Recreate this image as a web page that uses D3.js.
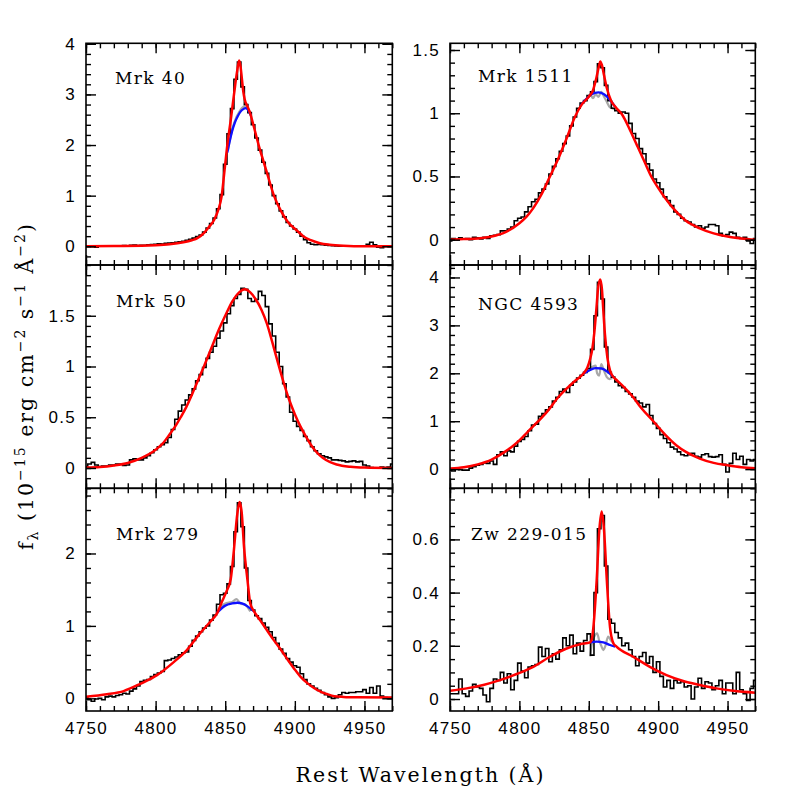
<!DOCTYPE html>
<html><head><meta charset="utf-8">
<script src="https://cdn.jsdelivr.net/npm/d3@7"></script>
<style>body{margin:0;background:#fff}</style>
</head><body><svg id="c" width="797" height="797" xmlns="http://www.w3.org/2000/svg"></svg>
<script>
// ---------- DATA ----------
const WAVE = [4750,4752.5,4755,4757.5,4760,4762.5,4765,4767.5,4770,4772.5,
4775,4777.5,4780,4782.5,4785,4787.5,4790,4792.5,4795,4797.5,
4800,4802.5,4805,4807.5,4810,4812.5,4815,4817.5,4820,4822.5,
4825,4827.5,4830,4832.5,4835,4837.5,4840,4842.5,4845,4847.5,
4850,4852.5,4855,4857.5,4860,4862.5,4865,4867.5,4870,4872.5,
4875,4877.5,4880,4882.5,4885,4887.5,4890,4892.5,4895,4897.5,
4900,4902.5,4905,4907.5,4910,4912.5,4915,4917.5,4920,4922.5,
4925,4927.5,4930,4932.5,4935,4937.5,4940,4942.5,4945,4947.5,
4950,4952.5,4955,4957.5,4960,4962.5,4965,4967.5,4970];

const X_DOMAIN = [4750, 4970];
const X_MAJOR = [4750, 4800, 4850, 4900, 4950];

const mrk40Flux = [0.0,0.0,-0.01,-0.02,0.0,0.0,0.005,0.0,0.01,0.0,
 0.01,0.015,0.01,0.02,0.025,0.015,0.02,0.02,0.03,0.035,
 0.04,0.05,0.045,0.06,0.065,0.07,0.08,0.09,0.1,0.12,
 0.14,0.16,0.19,0.22,0.28,0.36,0.45,0.56,0.74,1.02,
 1.62,2.22,2.72,3.3,3.64,3.15,2.8,2.64,2.4,2.14,
 1.9,1.66,1.44,1.21,1.0,0.84,0.7,0.58,0.47,0.4,
 0.34,0.28,0.2,0.13,0.07,0.04,0.03,0.035,0.03,0.02,
 0.015,0.01,0.005,0.0,0.0,0.005,0.0,0.0,0.005,0.0,
 0.01,0.04,0.08,0.03,-0.02,-0.03,0.0,0.0,0.0];
const mrk40Fit = [[4750,0],[4770,0.005],[4790,0.01],[4800,0.02],[4810,0.04],[4820,0.08],[4826,0.12],[4830,0.16],[4835,0.27],[4838,0.37],[4842,0.52],[4845,0.72],[4847.5,1.0],[4849.5,1.5],[4851.5,2.0],[4854,2.5],[4856.3,3.0],[4858.5,3.45],[4860,3.67],[4861,3.55],[4862,3.3],[4863,3.05],[4864,2.9],[4866,2.76],[4868,2.62],[4870,2.42],[4874,2.0],[4877,1.72],[4880,1.45],[4885,1.0],[4890,0.7],[4895,0.48],[4902,0.3],[4906,0.2],[4911.5,0.12],[4918,0.06],[4925,0.03],[4935,0.01],[4950,0.0],[4970,0.0]];
const mrk40Broad = [[4851.5,1.85],[4853,2.05],[4855,2.28],[4857,2.45],[4859,2.57],[4861,2.66],[4863,2.71],[4864.5,2.73],[4866,2.71],[4867.5,2.64],[4868.5,2.58]];
const mrk40Grey = [[4852,1.9],[4855,2.3],[4858,2.55],[4860,2.65],[4862,2.73],[4864,2.77],[4866,2.74],[4868,2.62]];

const mrk1511Flux = [-0.01,0.01,0.0,0.015,0.005,0.01,0.0,0.02,0.015,0.005,
 0.02,0.01,0.03,0.035,0.04,0.07,0.07,0.085,0.1,0.15,
 0.17,0.18,0.22,0.26,0.3,0.32,0.37,0.4,0.44,0.52,
 0.58,0.64,0.7,0.76,0.82,0.9,0.97,1.04,1.08,1.1,
 1.14,1.17,1.25,1.39,1.36,1.22,1.1,1.04,1.02,1.0,
 1.01,1.0,0.92,0.84,0.8,0.72,0.68,0.6,0.55,0.48,
 0.45,0.4,0.34,0.31,0.27,0.22,0.2,0.17,0.15,0.14,
 0.12,0.1,0.11,0.09,0.1,0.12,0.12,0.11,0.05,0.03,
 0.04,0.06,0.05,0.02,0.01,0.02,-0.01,-0.03,0.01];
const mrk1511Fit = [[4750,0.0],[4760,0.005],[4770,0.01],[4780,0.025],[4790,0.06],[4800,0.13],[4805,0.18],[4810,0.25],[4816,0.36],[4822,0.5],[4828,0.64],[4834,0.8],[4840,0.97],[4845,1.07],[4850,1.13],[4853,1.18],[4855.5,1.28],[4857.5,1.38],[4858.3,1.41],[4859.5,1.38],[4861,1.3],[4863,1.2],[4866,1.1],[4870,1.04],[4874,0.99],[4880,0.86],[4885,0.74],[4890,0.62],[4895,0.5],[4900,0.41],[4905,0.33],[4910,0.26],[4915,0.2],[4920,0.15],[4930,0.09],[4940,0.05],[4950,0.025],[4960,0.01],[4970,0.0]];
const mrk1511Broad = [[4844,1.06],[4848,1.11],[4852,1.15],[4857,1.165],[4861,1.15],[4865,1.11],[4869,1.05]];
const mrk1511Grey = [[4847,1.1],[4849,1.12],[4851,1.15],[4853,1.12],[4855,1.15],[4857,1.13],[4859,1.17],[4861,1.13],[4863,1.09],[4865,1.05],[4867,1.04],[4869,1.03]];

const mrk50Flux = [0.015,0.04,0.055,0.03,0.015,0.02,0.02,0.03,0.03,0.04,
 0.04,0.025,0.03,0.08,0.09,0.08,0.08,0.1,0.12,0.15,
 0.18,0.21,0.23,0.25,0.3,0.38,0.48,0.56,0.62,0.67,
 0.72,0.78,0.86,0.92,0.99,1.08,1.14,1.2,1.28,1.35,
 1.43,1.52,1.6,1.67,1.71,1.77,1.76,1.67,1.64,1.66,
 1.74,1.7,1.59,1.42,1.3,1.14,1.0,0.83,0.7,0.55,
 0.46,0.41,0.37,0.31,0.27,0.21,0.17,0.14,0.12,0.11,
 0.1,0.08,0.08,0.075,0.07,0.06,0.065,0.07,0.06,0.065,
 0.03,0.02,0.005,0.0,0.0,0.01,0.005,0.01,0.04];
const mrk50Fit = [[4750,0.005],[4760,0.01],[4770,0.025],[4780,0.05],[4790,0.1],[4800,0.18],[4805,0.24],[4810,0.33],[4815,0.43],[4818,0.5],[4822,0.6],[4826,0.72],[4830,0.85],[4835,1.01],[4840,1.18],[4845,1.35],[4850,1.5],[4855,1.64],[4860,1.73],[4864,1.76],[4868,1.73],[4872,1.66],[4876,1.56],[4880,1.42],[4884,1.23],[4888,1.03],[4892,0.84],[4896,0.67],[4900,0.53],[4904,0.41],[4908,0.31],[4912,0.22],[4916,0.15],[4920,0.1],[4925,0.06],[4930,0.035],[4940,0.012],[4950,0.004],[4970,0.0]];
const mrk50Broad = [];
const mrk50Grey = [];

const ngc4593Flux = [-0.02,-0.04,0.0,-0.01,-0.02,-0.02,0.02,0.05,0.08,0.1,
 0.13,0.12,0.17,0.1,0.3,0.36,0.28,0.38,0.36,0.48,
 0.58,0.62,0.68,0.8,0.92,0.94,1.1,1.16,1.24,1.3,
 1.42,1.5,1.62,1.67,1.6,1.75,1.82,1.9,1.96,2.02,
 2.1,2.5,3.2,3.9,3.55,2.55,2.02,1.92,1.82,1.74,
 1.7,1.62,1.57,1.5,1.42,1.38,1.3,1.35,1.12,0.95,
 0.85,0.72,0.64,0.55,0.46,0.42,0.36,0.3,0.28,0.3,
 0.33,0.27,0.25,0.3,0.32,0.26,0.25,0.26,0.3,0.1,
 -0.06,0.12,0.33,0.2,0.27,0.1,0.2,0.17,0.2];
const ngc4593Fit = [[4750,0.015],[4760,0.04],[4770,0.1],[4780,0.2],[4790,0.37],[4796,0.5],[4800,0.6],[4806,0.78],[4813.6,1.0],[4820,1.2],[4828,1.5],[4834,1.68],[4840,1.84],[4846,1.99],[4849,2.12],[4851,2.3],[4852.5,2.5],[4854,2.85],[4855.5,3.35],[4856.8,3.8],[4858.3,3.96],[4859.5,3.75],[4860.5,3.3],[4861.7,2.8],[4863.4,2.33],[4865.3,2.06],[4867.5,1.93],[4870,1.86],[4875,1.72],[4882,1.5],[4888,1.27],[4896.5,1.0],[4905,0.72],[4913,0.5],[4920,0.36],[4930,0.22],[4940,0.13],[4950,0.08],[4960,0.04],[4970,0.02]];
const ngc4593Broad = [[4846,1.99],[4851,2.07],[4855,2.11],[4859.3,2.1],[4864,2.02],[4867.7,1.93]];
const ngc4593Grey = [[4849,2.05],[4851,2.1],[4853,2.14],[4855,2.16],[4856,2.0],[4857.5,1.95],[4859,2.19],[4861,2.05],[4863,1.92],[4865,1.88],[4867,1.9]];

const mrk279Flux = [0.02,-0.02,-0.04,-0.01,0.0,-0.02,0.02,0.03,0.02,0.04,
 0.05,0.07,0.06,0.1,0.13,0.17,0.23,0.25,0.26,0.3,
 0.33,0.35,0.37,0.52,0.53,0.55,0.57,0.6,0.63,0.64,
 0.72,0.8,0.86,0.92,0.97,1.0,1.08,1.15,1.3,1.43,
 1.45,1.58,1.82,2.3,2.7,2.37,1.8,1.35,1.22,1.14,
 1.1,1.04,0.98,0.92,0.84,0.76,0.68,0.62,0.55,0.5,
 0.45,0.43,0.34,0.26,0.2,0.17,0.14,0.11,0.08,0.05,
 0.02,0.0,0.01,0.05,0.08,0.07,0.08,0.08,0.09,0.09,
 0.12,0.07,0.15,0.07,0.17,0.03,0.01,0.0,0.0];
const mrk279Fit = [[4750,0.02],[4765,0.055],[4777,0.1],[4789,0.2],[4801,0.32],[4813,0.5],[4822.6,0.67],[4832,0.9],[4839.4,1.06],[4844,1.17],[4848,1.35],[4851,1.48],[4854,1.65],[4856,2.0],[4858.7,2.55],[4860.3,2.71],[4861.8,2.57],[4863.5,2.09],[4866,1.63],[4868,1.31],[4870.7,1.2],[4875,1.08],[4880,0.94],[4885,0.8],[4890,0.67],[4895,0.53],[4899.5,0.41],[4904,0.3],[4909,0.21],[4914,0.14],[4918.8,0.09],[4923,0.06],[4928.4,0.03],[4935,0.02],[4945,0.014],[4970,0.01]];
const mrk279Broad = [[4844,1.18],[4850,1.28],[4855,1.31],[4858.7,1.32],[4862,1.31],[4866,1.27],[4870.7,1.2]];
const mrk279Grey = [[4846,1.25],[4849,1.3],[4852,1.32],[4855,1.33],[4858,1.37],[4860,1.33],[4862,1.3],[4864,1.3],[4866,1.26],[4868,1.2]];

const zwFlux = [0.02,0.02,0.02,0.075,0.02,0.01,0.03,0.055,0.045,0.04,
 0.015,-0.01,0.04,0.075,0.07,0.1,0.06,0.095,0.035,0.07,
 0.135,0.105,0.08,0.12,0.125,0.13,0.195,0.16,0.19,0.14,
 0.17,0.15,0.185,0.23,0.2,0.24,0.17,0.21,0.18,0.22,
 0.245,0.165,0.4,0.64,0.69,0.5,0.3,0.285,0.25,0.23,
 0.2,0.21,0.185,0.16,0.125,0.16,0.175,0.135,0.16,0.1,
 0.14,0.085,0.045,0.07,0.04,0.07,0.06,0.065,0.045,0.05,
 0.0,0.045,0.078,0.04,0.065,0.06,0.035,0.05,0.07,0.02,
 0.06,0.06,0.02,0.1,0.035,0.02,-0.005,0.04,0.07];
const zwFit = [[4750,0.031],[4762,0.04],[4774,0.053],[4786,0.071],[4798,0.094],[4810,0.121],[4822,0.159],[4834,0.19],[4843.7,0.206],[4851,0.213],[4852.2,0.225],[4853.5,0.28],[4855.7,0.447],[4857.6,0.635],[4859.3,0.705],[4861,0.635],[4863,0.447],[4865.3,0.27],[4867.7,0.21],[4870,0.197],[4882,0.159],[4894,0.121],[4906,0.09],[4918,0.068],[4930,0.053],[4942,0.04],[4954,0.031],[4970,0.024]];
const zwBroad = [[4851,0.213],[4855.7,0.216],[4860.5,0.213],[4865.3,0.203],[4869,0.197]];
const zwGrey = [[4851,0.16],[4852,0.2],[4854,0.235],[4856,0.247],[4857.5,0.22],[4859,0.2],[4860.5,0.184],[4862,0.2],[4864,0.235],[4866,0.22],[4868,0.21]];

const NAMES = ["Mrk 40", "Mrk 1511", "Mrk 50", "NGC 4593", "Mrk 279", "Zw 229-015"];
const Y_DOMAINS = [[-0.37, 4.01], [-0.2, 1.553], [-0.2, 2.0], [-0.4, 4.26], [-0.175, 2.9], [-0.045, 0.792]];
const Y_MAJOR = [[0,1,2,3,4], [0,0.5,1,1.5], [0,0.5,1,1.5], [0,1,2,3,4], [0,1,2], [0,0.2,0.4,0.6]];
const Y_MINOR_STEP = [0.2, 0.1, 0.1, 0.2, 0.2, 0.05];

// ---------- LAYOUT ----------
const COLS = [[86, 392.3], [450, 755.3]];
const ROWS = [[43.3, 265], [265, 488.3], [488.3, 711]];
const LABEL_OFF = [[29,41],[28,38.5],[30,41.7],[28,45],[30,51.7],[21,51.7]];

const panels = [
  {flux: mrk40Flux, fit: mrk40Fit, broad: mrk40Broad, grey: mrk40Grey, col:0, row:0},
  {flux: mrk1511Flux, fit: mrk1511Fit, broad: mrk1511Broad, grey: mrk1511Grey, col:1, row:0},
  {flux: mrk50Flux, fit: mrk50Fit, broad: mrk50Broad, grey: mrk50Grey, col:0, row:1},
  {flux: ngc4593Flux, fit: ngc4593Fit, broad: ngc4593Broad, grey: ngc4593Grey, col:1, row:1},
  {flux: mrk279Flux, fit: mrk279Fit, broad: mrk279Broad, grey: mrk279Grey, col:0, row:2},
  {flux: zwFlux, fit: zwFit, broad: zwBroad, grey: zwGrey, col:1, row:2}
];

const svg = d3.select("#c");
const TICK_FONT = "'Liberation Sans', Arial, sans-serif";
const SERIF = "'DejaVu Serif', serif";

function minorTicks(dom, step) {
  const a = Math.ceil(dom[0] / step - 1e-9), b = Math.floor(dom[1] / step + 1e-9);
  return d3.range(a, b + 1).map(k => +(k * step).toFixed(4));
}
function styleAxis(g, showLabels) {
  g.select(".domain").remove();
  g.selectAll(".tick line").attr("stroke", "#000").attr("stroke-width", 1.4);
  g.attr("font-family", TICK_FONT).attr("font-size", 17);
  g.selectAll(".tick text").attr("fill", "#000").style("letter-spacing", "1.3px");
  if (!showLabels) g.selectAll(".tick text").remove();
}

panels.forEach((p, i) => {
  const [x0, x1] = COLS[p.col];
  const [y0, y1] = ROWS[p.row];
  const x = d3.scaleLinear().domain(X_DOMAIN).range([x0, x1]);
  const y = d3.scaleLinear().domain(Y_DOMAINS[i]).range([y1, y0]);
  const g = svg.append("g");
  const cid = "clip" + i;
  g.append("clipPath").attr("id", cid).append("rect")
    .attr("x", x0).attr("y", y0).attr("width", x1 - x0).attr("height", y1 - y0);
  const plot = g.append("g").attr("clip-path", `url(#${cid})`);

  const smooth = d3.line().x(d => x(d[0])).y(d => y(d[1])).curve(d3.curveMonotoneX);
  const step = d3.line().x((d, k) => x(WAVE[k])).y(d => y(d)).curve(d3.curveStep);

  if (p.grey.length) plot.append("path").attr("d", smooth(p.grey)).attr("fill", "none")
    .attr("stroke", "#a8a8a8").attr("stroke-width", 2.2);
  plot.append("path").attr("d", step(p.flux)).attr("fill", "none")
    .attr("stroke", "#000").attr("stroke-width", 1.6).attr("stroke-linejoin", "miter");
  if (p.broad.length) plot.append("path").attr("d", smooth(p.broad)).attr("fill", "none")
    .attr("stroke", "#1010ff").attr("stroke-width", 2.3);
  plot.append("path").attr("d", smooth(p.fit)).attr("fill", "none")
    .attr("stroke", "#ff0000").attr("stroke-width", 2.5);

  // axes
  const fmt = d3.format("~g");
  const yMinor = minorTicks(Y_DOMAINS[i], Y_MINOR_STEP[i]);
  const xMinor = minorTicks(X_DOMAIN, 10);

  g.append("g").attr("transform", `translate(${x0},0)`)
    .call(d3.axisLeft(y).tickValues(Y_MAJOR[i]).tickSizeInner(-10).tickSizeOuter(0).tickPadding(10).tickFormat(fmt))
    .call(a => styleAxis(a, true));
  g.append("g").attr("transform", `translate(${x0},0)`)
    .call(d3.axisLeft(y).tickValues(yMinor).tickSizeInner(-5).tickSizeOuter(0).tickFormat(""))
    .call(a => styleAxis(a, false));
  g.append("g").attr("transform", `translate(${x1},0)`)
    .call(d3.axisRight(y).tickValues(Y_MAJOR[i]).tickSizeInner(-10).tickSizeOuter(0).tickFormat(""))
    .call(a => styleAxis(a, false));
  g.append("g").attr("transform", `translate(${x1},0)`)
    .call(d3.axisRight(y).tickValues(yMinor).tickSizeInner(-5).tickSizeOuter(0).tickFormat(""))
    .call(a => styleAxis(a, false));
  const bottomLabels = p.row === 2;
  g.append("g").attr("transform", `translate(0,${y1})`)
    .call(d3.axisBottom(x).tickValues(X_MAJOR).tickSizeInner(-10).tickSizeOuter(0).tickPadding(11).tickFormat(fmt))
    .call(a => styleAxis(a, bottomLabels));
  g.append("g").attr("transform", `translate(0,${y1})`)
    .call(d3.axisBottom(x).tickValues(xMinor).tickSizeInner(-5).tickSizeOuter(0).tickFormat(""))
    .call(a => styleAxis(a, false));
  g.append("g").attr("transform", `translate(0,${y0})`)
    .call(d3.axisTop(x).tickValues(X_MAJOR).tickSizeInner(-10).tickSizeOuter(0).tickFormat(""))
    .call(a => styleAxis(a, false));
  g.append("g").attr("transform", `translate(0,${y0})`)
    .call(d3.axisTop(x).tickValues(xMinor).tickSizeInner(-5).tickSizeOuter(0).tickFormat(""))
    .call(a => styleAxis(a, false));

  g.append("rect").attr("x", x0).attr("y", y0).attr("width", x1 - x0).attr("height", y1 - y0)
    .attr("fill", "none").attr("stroke", "#000").attr("stroke-width", 1.6);

  g.append("text").attr("x", x0 + LABEL_OFF[i][0]).attr("y", y0 + LABEL_OFF[i][1])
    .attr("font-family", SERIF).attr("font-size", 17).style("letter-spacing", "1.4px")
    .attr("fill", "#000").text(NAMES[i]);
});

// axis titles
svg.append("text").attr("x", 420.5).attr("y", 782).attr("text-anchor", "middle")
  .attr("font-family", SERIF).attr("font-size", 20.5).style("letter-spacing", "2px")
  .text("Rest Wavelength (Å)");

const yt = svg.append("text").attr("transform", "translate(33,386) rotate(-90)")
  .attr("text-anchor", "middle").attr("font-family", SERIF).attr("font-size", 20.5)
  .style("letter-spacing", "2px");
yt.append("tspan").text("f");
yt.append("tspan").attr("dy", 5).attr("font-size", 14).text("λ");
yt.append("tspan").attr("dy", -5).text(" (10");
yt.append("tspan").attr("dy", -8).attr("font-size", 14).text("−15");
yt.append("tspan").attr("dy", 8).text(" erg cm");
yt.append("tspan").attr("dy", -8).attr("font-size", 14).text("−2");
yt.append("tspan").attr("dy", 8).text(" s");
yt.append("tspan").attr("dy", -8).attr("font-size", 14).text("−1");
yt.append("tspan").attr("dy", 8).text(" Å");
yt.append("tspan").attr("dy", -8).attr("font-size", 14).text("−2");
yt.append("tspan").attr("dy", 8).text(")");
</script></body></html>
